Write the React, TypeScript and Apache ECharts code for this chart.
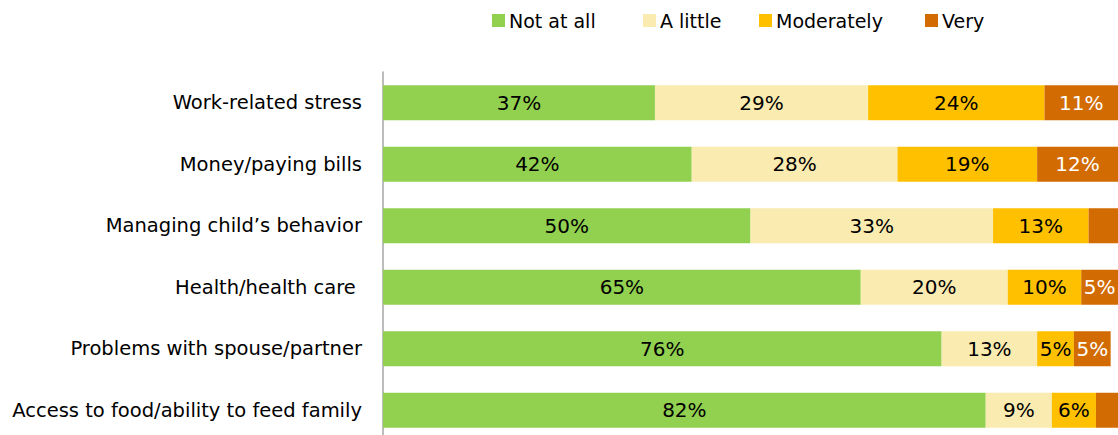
import React, { useEffect, useRef } from "react";
import * as echarts from "echarts";

const categories = [
  "Work-related stress",
  "Money/paying bills",
  "Managing child\u2019s behavior",
  "Health/health care ",
  "Problems with spouse/partner",
  "Access to food/ability to feed family",
];
const seriesNames = ["Not at all", "A little", "Moderately", "Very"];
const notAtAll = [37, 42, 50, 65, 76, 82];
const aLittle = [29, 28, 33, 20, 13, 9];
const moderately = [24, 19, 13, 10, 5, 6];
const very = [11, 12, 4, 5, 5, 3];
// labels not shown in the reference for these (series index, category index)
const hiddenLabels: [number, number][] = [
  [3, 2],
  [3, 5],
];
const colors = ["#92D050", "#FAEBB0", "#FFC000", "#D26B02"];
const labelColors = ["#000000", "#000000", "#000000", "#FFFFFF"];
const legendLefts = [492, 643, 759, 925];

const FONT = "'DejaVu Sans', sans-serif";

export default function App() {
  const ref = useRef<HTMLDivElement>(null);
  useEffect(() => {
    document.body.style.margin = "0";
    document.body.style.overflow = "hidden";
    if (!ref.current) return;
    const chart = echarts.init(ref.current, null, { renderer: "svg" });
    const values = [notAtAll, aLittle, moderately, very];
    chart.setOption({
      animation: false,
      textStyle: { fontFamily: FONT },
      legend: seriesNames.map((name, i) => ({
        data: [name],
        left: legendLefts[i],
        top: 11,
        padding: 0,
        itemWidth: 13,
        itemHeight: 13,
        icon: "rect",
        selectedMode: false,
        textStyle: { fontFamily: FONT, fontSize: 19, color: "#000", padding: [0, 0, 0, -1] },
      })),
      grid: { left: 383, right: 0, top: 72, height: 369, containLabel: false },
      xAxis: {
        type: "value",
        min: 0,
        max: 100,
        show: false,
      },
      yAxis: {
        type: "category",
        data: categories,
        inverse: true,
        axisLine: { show: true, lineStyle: { color: "#A6A6A6", width: 1.5 } },
        axisTick: { show: false },
        axisLabel: { color: "#000", fontSize: 19.5, fontFamily: FONT, margin: 21 },
        splitLine: { show: false },
      },
      series: seriesNames.map((name, si) => ({
        name,
        type: "bar",
        stack: "total",
        barWidth: 35,
        data: values[si],
        itemStyle: { color: colors[si] },
        label: {
          show: true,
          position: "inside",
          color: labelColors[si],
          fontSize: 20,
          fontFamily: FONT,
          formatter: (p: any) =>
            hiddenLabels.some(([s, c]) => s === si && c === p.dataIndex) ? "" : `${p.value}%`,
        },
      })),
    });
    return () => chart.dispose();
  }, []);
  return <div ref={ref} style={{ width: 1118, height: 445 }} />;
}
